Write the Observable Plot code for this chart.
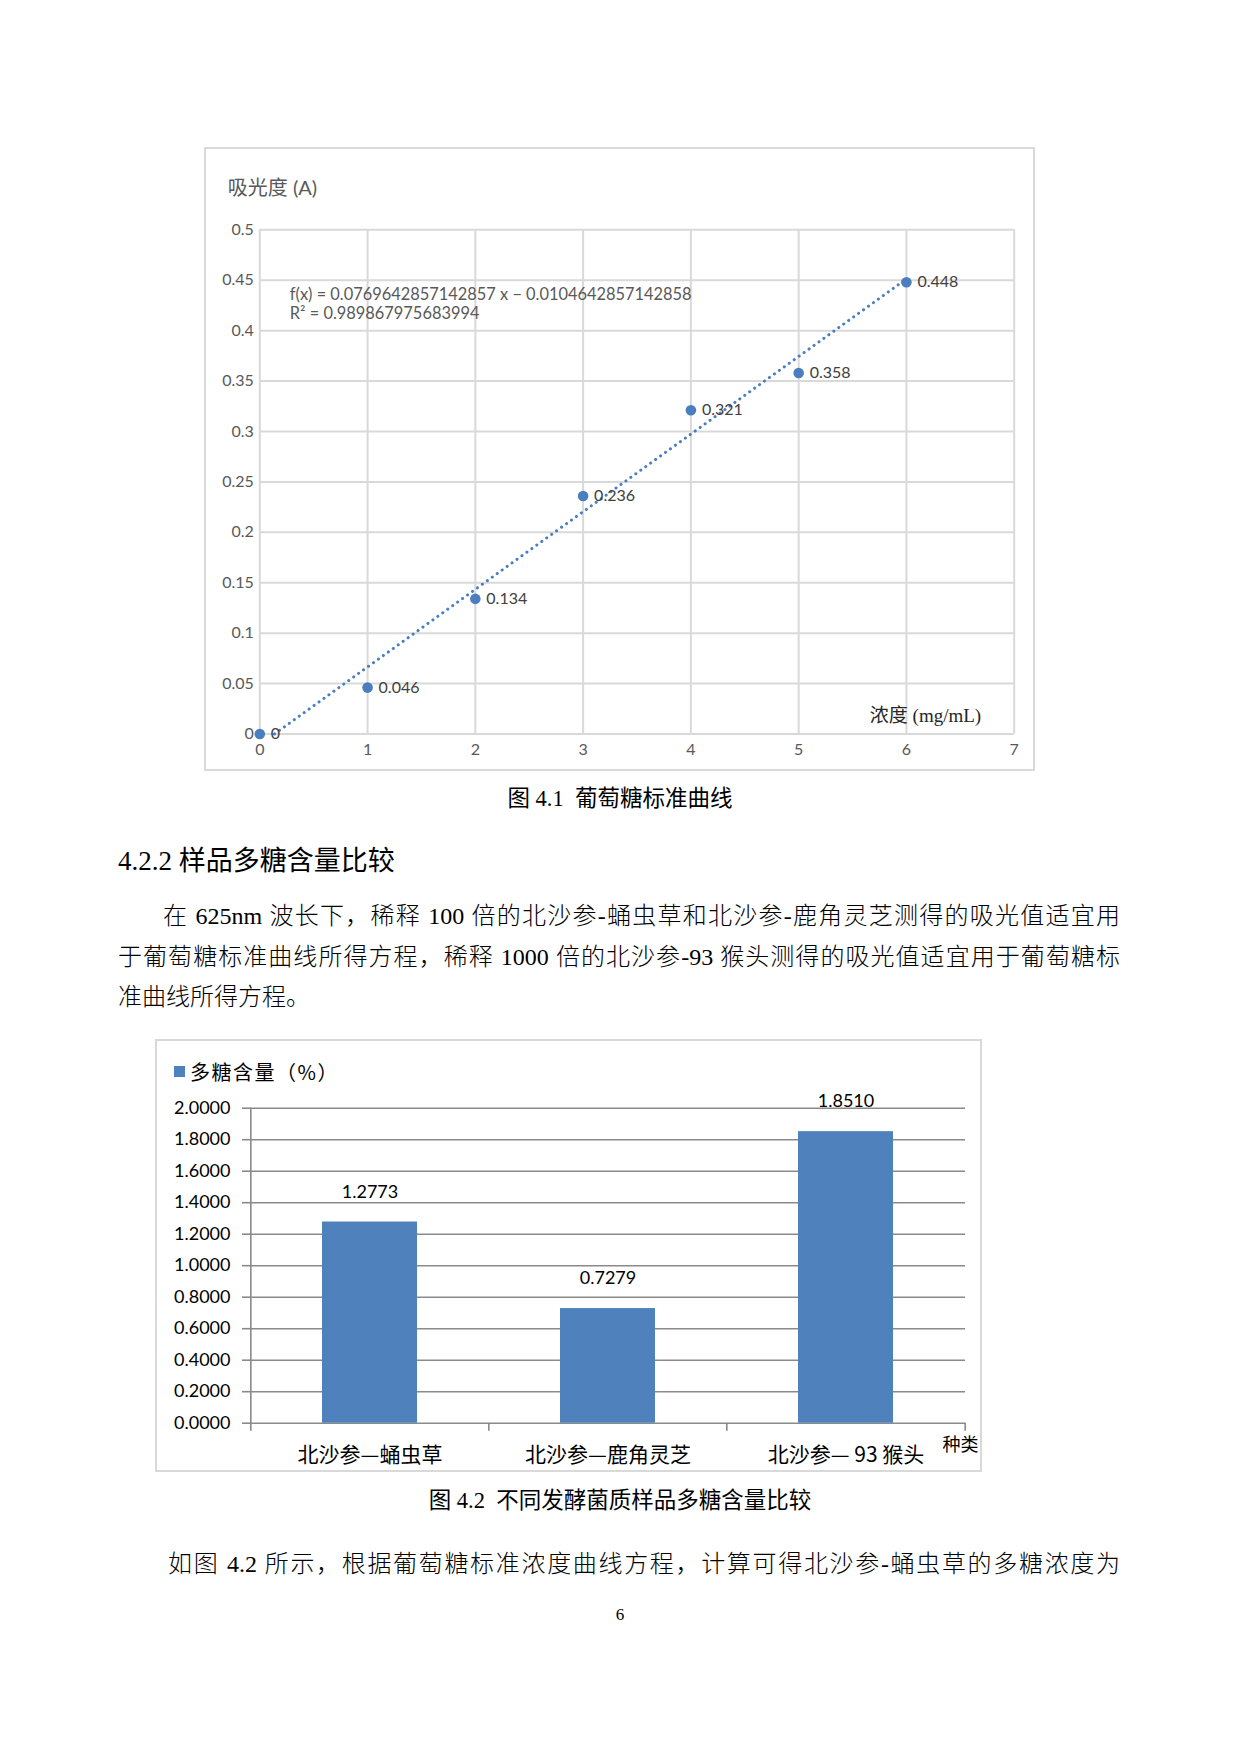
<!DOCTYPE html>
<html>
<head>
<meta charset="utf-8">
<script src="https://cdn.jsdelivr.net/npm/d3@7"></script>
<script src="https://cdn.jsdelivr.net/npm/@observablehq/plot@0.6"></script>
<style>
  html, body { margin: 0; padding: 0; background: #fff; }
  #page { position: relative; width: 1240px; height: 1754px; background: #fff; overflow: hidden; }
  .abs { position: absolute; }
  .serif { font-family: "Liberation Serif", "Noto Sans CJK SC", serif; color: #000; }
  .light { font-weight: 300; }
  .cjk { font-family: "Noto Sans CJK SC", "Liberation Serif", sans-serif; color: #000; }
  .box { position: absolute; border: 2px solid #d9d9d9; box-sizing: border-box; pointer-events: none; }
  .jline { text-align: justify; text-align-last: justify; }
</style>
</head>
<body>
<div id="page">
  <div class="box" style="left:204px;top:147px;width:831px;height:624px;"></div>
  <div id="chart1" class="abs" style="left:204px;top:147px;"></div>

  <div class="abs serif" style="left:0;top:784px;width:1240px;text-align:center;font-size:22.5px;line-height:30px;">图 4.1&nbsp;&nbsp;葡萄糖标准曲线</div>

  <div class="abs serif" style="left:118px;top:843px;font-size:27px;line-height:36px;">4.2.2 样品多糖含量比较</div>

  <div class="abs serif light" style="left:118px;top:896px;width:1002px;font-size:24px;line-height:40.5px;">
    <div class="jline" style="padding-left:45px;">在 625nm 波长下，稀释 100 倍的北沙参-蛹虫草和北沙参-鹿角灵芝测得的吸光值适宜用</div>
    <div class="jline">于葡萄糖标准曲线所得方程，稀释 1000 倍的北沙参-93 猴头测得的吸光值适宜用于葡萄糖标</div>
    <div>准曲线所得方程。</div>
  </div>

  <div class="box" style="left:155px;top:1039px;width:827px;height:433px;"></div>
  <div id="chart2" class="abs" style="left:155px;top:1039px;"></div>
  <div class="abs" style="left:174px;top:1066px;width:11px;height:11px;background:#4f81bd;"></div>
  <div class="abs cjk" style="left:190px;top:1058px;font-size:20px;line-height:28px;letter-spacing:1.5px;">多糖含量（%）</div>

  <div class="abs serif" style="left:0;top:1486px;width:1240px;text-align:center;font-size:22.5px;line-height:30px;">图 4.2&nbsp;&nbsp;不同发酵菌质样品多糖含量比较</div>

  <div class="abs serif light jline" style="left:168px;top:1544px;width:952px;font-size:24px;line-height:40.5px;">如图 4.2 所示，根据葡萄糖标准浓度曲线方程，计算可得北沙参-蛹虫草的多糖浓度为</div>

  <div class="abs serif" style="left:0;top:1604px;width:1240px;text-align:center;font-size:17px;line-height:22px;">6</div>
</div>

<script>
// ---------- Data: Figure 4.1 glucose standard curve ----------
const concentration = [0, 1, 2, 3, 4, 5, 6];
const absorbance = [0, 0.046, 0.134, 0.236, 0.321, 0.358, 0.448];
const xTicks1 = [0, 1, 2, 3, 4, 5, 6, 7];
const yTicks1 = [0, 0.05, 0.1, 0.15, 0.2, 0.25, 0.3, 0.35, 0.4, 0.45, 0.5];
const trendSlope = 0.0769642857142857;
const trendIntercept = -0.0104642857142858;
const equationText = "f(x) = 0.0769642857142857 x − 0.0104642857142858";
const r2Text = "R² = 0.989867975683994";
const yTitle1 = "吸光度 (A)";
const xTitle1 = "浓度 (mg/mL)";

// ---------- Data: Figure 4.2 polysaccharide content ----------
const samples = ["北沙参—蛹虫草", "北沙参—鹿角灵芝", "北沙参— 93 猴头"];
const content = [1.2773, 0.7279, 1.8510];
const yTicks2 = [0, 0.2, 0.4, 0.6, 0.8, 1.0, 1.2, 1.4, 1.6, 1.8, 2.0];
const xTitle2 = "种类";

const blue = "#4a7ebf";

// ---------- Chart 1 ----------
{
  const pts = concentration.map((c, i) => ({x: c, y: absorbance[i]}));
  const xStart = -trendIntercept / trendSlope;
  const xEnd = concentration[concentration.length - 1];
  const trend = [xStart, xEnd].map(x => ({x, y: trendSlope * x + trendIntercept}));
  const fmt = d => String(+d.toFixed(3));

  const chart1 = Plot.plot({
    width: 831,
    height: 624,
    marginLeft: 55.3,
    marginRight: 21.3,
    marginTop: 82.3,
    marginBottom: 37.5,
    style: {fontFamily: "Lato, 'Noto Sans CJK SC', sans-serif", background: "transparent"},
    x: {domain: [0, 7], label: null},
    y: {domain: [0, 0.5], label: null},
    marks: [
      Plot.gridX(xTicks1, {stroke: "#d9d9d9", strokeOpacity: 1, strokeWidth: 2}),
      Plot.gridY(yTicks1, {stroke: "#d9d9d9", strokeOpacity: 1, strokeWidth: 2}),
      Plot.axisX(xTicks1, {tickSize: 0, tickPadding: 10, fontSize: 16, fill: "#595959", tickFormat: fmt, label: null}),
      Plot.axisY(yTicks1, {tickSize: 0, tickPadding: 6, fontSize: 16, fill: "#595959", tickFormat: fmt, label: null}),
      Plot.line(trend, {x: "x", y: "y", stroke: blue, strokeWidth: 3, strokeDasharray: "0.1 6", strokeLinecap: "round"}),
      Plot.dot(pts, {x: "x", y: "y", r: 5.3, fill: blue, stroke: "none"}),
      Plot.text(pts, {x: "x", y: "y", text: d => fmt(d.y), dx: 11, textAnchor: "start", fontSize: 16, fill: "#404040"}),
      Plot.text([yTitle1], {frameAnchor: "top-left", dx: -32, dy: -41, textAnchor: "start", lineAnchor: "middle", fontSize: 20, fill: "#595959"}),
      Plot.text([equationText], {frameAnchor: "top-left", dx: 30, dy: 65, textAnchor: "start", lineAnchor: "middle", fontSize: 16.4, fill: "#595959"}),
      Plot.text([r2Text], {frameAnchor: "top-left", dx: 30, dy: 84, textAnchor: "start", lineAnchor: "middle", fontSize: 16.4, fill: "#595959"}),
      Plot.text([xTitle1], {frameAnchor: "bottom-right", dx: -33, dy: -18.5, textAnchor: "end", lineAnchor: "middle", fontSize: 19, fill: "#262626", fontFamily: "'Liberation Serif', 'Noto Sans CJK SC', serif"})
    ]
  });
  document.getElementById("chart1").appendChild(chart1);
}

// ---------- Chart 2 ----------
{
  const rows = samples.map((s, i) => ({name: s, value: content[i]}));
  const W = 827, mL = 95, mR = 17;
  const padInner = 0.6, padOuter = 0.3;
  const step = (W - mL - mR) / (samples.length - padInner + 2 * padOuter);
  const half = step / 2;
  const axisColor = "#8a8a8a";

  const chart2 = Plot.plot({
    width: W,
    height: 433,
    marginLeft: mL,
    marginRight: mR,
    marginTop: 68.7,
    marginBottom: 49.3,
    style: {fontFamily: "Lato, 'Noto Sans CJK SC', sans-serif", background: "transparent"},
    x: {domain: samples, paddingInner: padInner, paddingOuter: padOuter, label: null},
    y: {domain: [0, 2], label: null},
    marks: [
      Plot.gridY(yTicks2, {stroke: axisColor, strokeOpacity: 1, strokeWidth: 1.6}),
      Plot.ruleX([samples[0]], {dx: -half, y1: 2, y2: 0, insetBottom: -8, stroke: axisColor, strokeWidth: 1.6}),
      Plot.ruleX(samples.slice(1), {dx: -half, y1: 0, y2: 0, insetBottom: -8, stroke: axisColor, strokeWidth: 1.6}),
      Plot.ruleX([samples[samples.length - 1]], {dx: half, y1: 0, y2: 0, insetBottom: -8, stroke: axisColor, strokeWidth: 1.6}),
      Plot.axisY(yTicks2, {tickSize: 8, tickPadding: 12, fontSize: 18, fill: "#000", stroke: axisColor, strokeWidth: 1.6, tickFormat: d3.format(".4f"), label: null}),
      Plot.axisX({tickSize: 0, tickPadding: 24, fontSize: 21, fill: "#000", fontFamily: "'Noto Sans CJK SC', Lato, sans-serif", label: null}),
      Plot.barY(rows, {x: "name", y: "value", fill: "#4f81bd"}),
      Plot.text(rows, {x: "name", y: "value", text: d => d3.format(".4f")(d.value), dy: -30, lineAnchor: "middle", fontSize: 18, fill: "#000"}),
      Plot.text([xTitle2], {frameAnchor: "bottom-right", dx: 13, dy: 22, textAnchor: "end", lineAnchor: "middle", fontSize: 18, fill: "#000", fontFamily: "'Noto Sans CJK SC', sans-serif"})
    ]
  });
  document.getElementById("chart2").appendChild(chart2);
}
</script>
</body>
</html>
